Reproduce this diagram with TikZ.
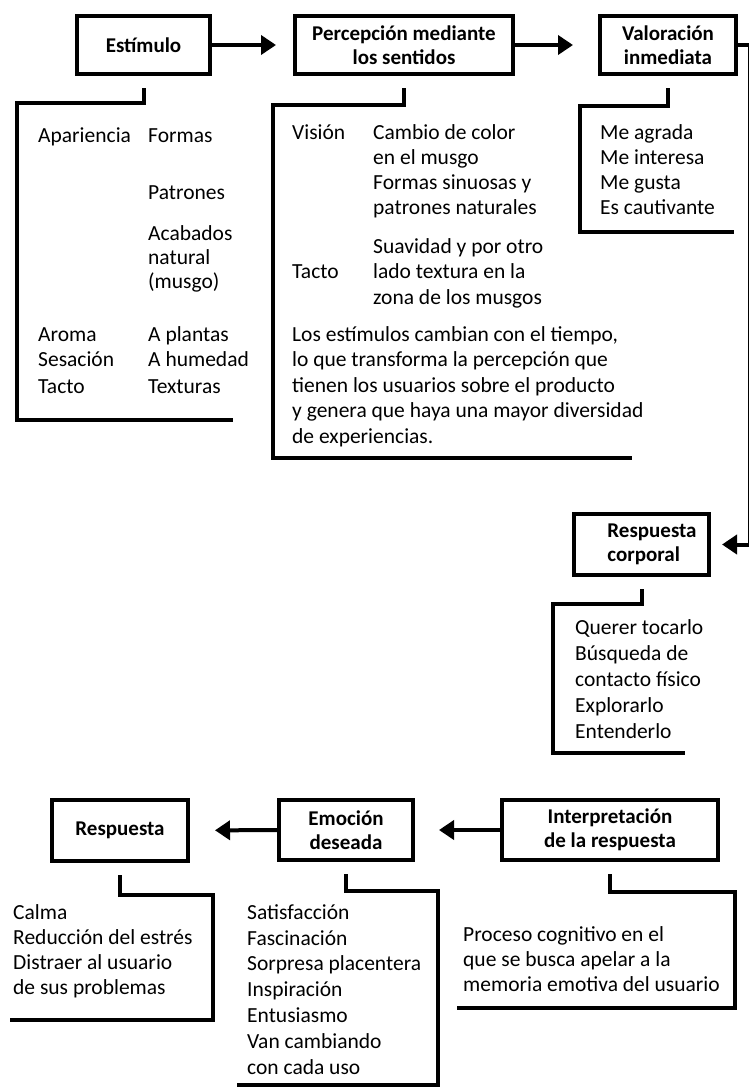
\documentclass[tikz,border=0pt]{standalone}
\usepackage{fontspec}
\setmainfont{Carlito}
\usetikzlibrary{arrows.meta}

\begin{document}
\begin{tikzpicture}[
    x=1pt, y=-1pt,
    >={Triangle[length=15pt,width=19pt]},
    line join=miter,
    flow/.style={line width=4pt},
    frame/.style={line width=4pt},
    title node/.style={draw, line width=4pt, inner sep=0pt, align=center,
        font=\fontsize{21}{24}\selectfont\bfseries},
    list node/.style={anchor=base west, align=left, inner sep=0pt,
        font=\fontsize{21.5}{25.5}\selectfont}
]

\useasboundingbox (0,0) rectangle (748,1090);

% Nodes
\node[title node, minimum width=133pt, minimum height=58pt] (est) at (143.5,45) {Estímulo};
\node[title node, minimum width=218pt, minimum height=58pt] (per) at (404,45) {Percepción mediante\\los sentidos};
\node[title node, minimum width=136pt, minimum height=58pt] (val) at (668,45) {Valoración\\inmediata};
\node[title node, minimum width=135pt, minimum height=61pt, align=left] (corp) at (641.5,544.5) {\hspace*{21pt}Respuesta\\\hspace*{21pt}corporal};
\node[title node, minimum width=136pt, minimum height=61pt] (resp) at (120,830.5) {Respuesta};
\node[title node, minimum width=134pt, minimum height=60pt] (emo) at (346,830) {Emoción\\deseada};
\node[title node, minimum width=216pt, minimum height=60pt] (inter) at (610,830) {Interpretación\\de la respuesta};

\coordinate (vr) at (749.5,45);
\coordinate (cr) at (749.5,544.5);

% Lists under Estimulo (base = last line)
\node[list node] (apa) at (38,142) {Apariencia};
\node[list node] (form) at (148,142) {Formas};
\node[list node] (pat) at (148,199) {Patrones};
\node[list node, font=\fontsize{21.5}{24}\selectfont] (acab) at (148,288) {Acabados\\natural\\(musgo)};
\node[list node] (aro) at (38,341) {Aroma};
\node[list node] (pla) at (148,341) {A plantas};
\node[list node] (ses) at (38,366) {Sesación};
\node[list node] (hum) at (148,366) {A humedad};
\node[list node] (tac) at (38,393) {Tacto};
\node[list node] (tex) at (148,393) {Texturas};

% Lists under Percepcion
\node[list node] (vis) at (292,139) {Visión};
\node[list node, font=\fontsize{21.5}{25}\selectfont] (col) at (373,214) {Cambio de color\\en el musgo\\Formas sinuosas y\\patrones naturales};
\node[list node] (suav) at (373,304) {Suavidad y por otro\\lado textura en la\\zona de los musgos};
\node[list node] (tacto) at (292,278) {Tacto};
\node[list node] (cam) at (292,443) {Los estímulos cambian con el tiempo,\\lo que transforma la percepción que\\tienen los usuarios sobre el producto\\y genera que haya una mayor diversidad\\de experiencias.};

% Other lists
\node[list node, font=\fontsize{21.5}{25}\selectfont] (agr) at (600,214) {Me agrada\\Me interesa\\Me gusta\\Es cautivante};
\node[list node, font=\fontsize{21.5}{26}\selectfont] (toc) at (575,738) {Querer tocarlo\\Búsqueda de\\contacto físico\\Explorarlo\\Entenderlo};
\node[list node, font=\fontsize{21.5}{25}\selectfont] (cal) at (13,994) {Calma\\Reducción del estrés\\Distraer al usuario\\de sus problemas};
\node[list node, font=\fontsize{21.5}{25.8}\selectfont] (sat) at (247,1074) {Satisfacción\\Fascinación\\Sorpresa placentera\\Inspiración\\Entusiasmo\\Van cambiando\\con cada uso};
\node[list node, font=\fontsize{21.5}{25}\selectfont] (pro) at (463,991) {Proceso cognitivo en el\\que se busca apelar a la\\memoria emotiva del usuario};

% Edges between the steps
\draw[flow, ->, shorten >=17pt] (est) -- (per);
\draw[flow, ->, shorten >=25pt] (per) -- (val);
\draw[flow] (val) -- (vr) -- (cr);
\draw[flow, ->, shorten >=11pt] (cr) -- (corp);
\draw[flow, ->, shorten >=24pt] (inter) -- (emo);
\draw[flow, ->, shorten >=25pt] (emo) -- (resp);

% Brackets
\draw[frame] ([yshift=-12pt]est.south) -- ++(0,15) -| (17,420) -- (233,420);
\draw[frame] ([yshift=-12pt]per.south) -- ++(0,17) -| (273,458) -- (632,458);
\draw[frame] ([yshift=-12pt]val.south) -- ++(0,18) -| (580,232) -- (734,232);
\draw[frame] ([yshift=-12pt]corp.south) -- ++(0,15) -| (553,753) -- (685,753);
\draw[frame] ([yshift=-12pt]resp.south) -- ++(0,20) -| (213,1020) -- (10,1020);
\draw[frame] ([yshift=-12pt]emo.south) -- ++(0,17) -| (438,1085) -- (237,1085);
\draw[frame] ([yshift=-12pt]inter.south) -- ++(0,18) -| (735,1008) -- (457,1008);

\end{tikzpicture}
\end{document}
